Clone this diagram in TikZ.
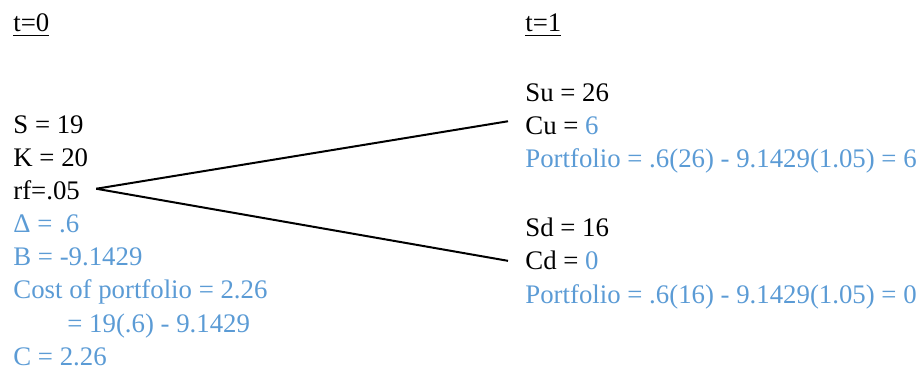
\documentclass[tikz,border=0pt]{standalone}
\usepackage{fontspec}
\setmainfont{Liberation Serif}
\usepackage{xcolor}
\definecolor{cBlue}{HTML}{5B9BD5}
\usetikzlibrary{positioning,calc}
\tikzset{
  txt/.style={anchor=base west,inner sep=0pt,font=\fontsize{13.4}{16.5}\selectfont},
  txt-calc/.style={txt,text=cBlue},
  branch/.style={line width=1pt,draw=black},
}

\begin{document}
\begin{tikzpicture}[x=0.5pt,y=-0.5pt]
  \useasboundingbox (0,0) rectangle (919,373);
  % time headers
  \node[txt] (t0) at (13,32) {\underline{t=0}};
  \node[txt] (t1) at (525,32) {\underline{t=1}};
  % t=0 column
  \node[txt] (s) at (13,134) {S = 19};
  \node[txt] (k) at (13,167) {K = 20};
  \node[txt] (rf) at (13,200) {rf=.05};
  \node[txt-calc] (delta) at (13,233) {Δ = .6};
  \node[txt-calc] (b) at (13,266) {B = -9.1429};
  \node[txt-calc] (cost) at (13,299) {Cost of portfolio = 2.26};
  \node[txt-calc] (cost2) at (67,332) {= 19(.6) - 9.1429};
  \node[txt-calc] (c) at (13,365) {C = 2.26};
  % t=1 up state
  \node[txt] (su) at (525,102) {Su = 26};
  \node[txt] (cu) at (525,135) {Cu = \textcolor{cBlue}{6}};
  \node[txt-calc] (pu) at (525,168) {Portfolio = .6(26) - 9.1429(1.05) = 6};
  % t=1 down state
  \node[txt] (sd) at (525,237) {Sd = 16};
  \node[txt] (cd) at (525,270) {Cd = \textcolor{cBlue}{0}};
  \node[txt-calc] (pd) at (525,303) {Portfolio = .6(16) - 9.1429(1.05) = 0};
  % branches
  \coordinate (root) at ([xshift=8pt,yshift=1pt]rf.east);
  \draw[branch] (root) -- ([xshift=-8.5pt,yshift=2.5pt]cu.west);
  \draw[branch] (root) -- ([xshift=-8.5pt]cd.west);
\end{tikzpicture}
\end{document}
